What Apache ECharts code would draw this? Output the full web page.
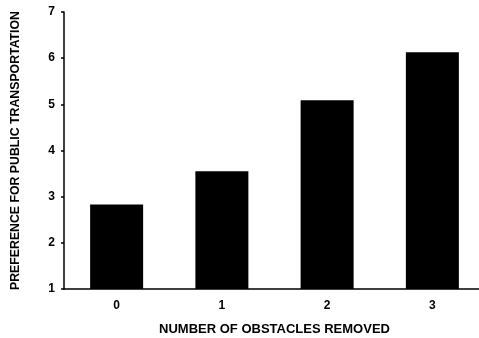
<!DOCTYPE html>
<html>
    <head>
        <meta charset="utf-8">
        <title>Obstacles removed</title>
        <script src="https://cdn.jsdelivr.net/npm/echarts@6/dist/echarts.min.js"></script>
        <style type="text/css">
            *{margin: 0}
        </style>
    </head>
    <body>
        <div id="main" style="width: 479px;height:338px;"></div>
        <script type="text/javascript">
        // data
        var categories = ['0', '1', '2', '3'];
        var preference = [2.83, 3.55, 5.09, 6.13];
        var yTicks = [1, 2, 3, 4, 5, 6, 7];

        var font = '"Liberation Sans", Arial, sans-serif';
        var myChart = echarts.init(document.getElementById('main'));
        myChart.setOption({
            animation: false,
            backgroundColor: '#fff',
            grid: {left: 64, top: 12, width: 421, height: 277, outerBoundsMode: 'none'},
            xAxis: {
                type: 'category',
                data: categories,
                name: 'NUMBER OF OBSTACLES REMOVED',
                nameLocation: 'middle',
                nameGap: 34,
                nameTextStyle: {color: '#000', fontFamily: font, fontWeight: 'bold', fontSize: 13},
                axisLine: {lineStyle: {color: '#000', width: 1.5}},
                axisTick: {show: false},
                axisLabel: {color: '#000', fontFamily: font, fontWeight: 'bold', fontSize: 12, margin: 11}
            },
            yAxis: {
                type: 'value',
                min: yTicks[0],
                max: yTicks[yTicks.length - 1],
                interval: 1,
                name: 'PREFERENCE FOR PUBLIC TRANSPORTATION',
                nameLocation: 'middle',
                nameRotate: 90,
                nameGap: 42,
                nameTextStyle: {color: '#000', fontFamily: font, fontWeight: 'bold', fontSize: 12.3},
                axisLine: {show: true, lineStyle: {color: '#000', width: 1.5}},
                axisTick: {show: true, length: 3, lineStyle: {color: '#000', width: 1.5}},
                axisLabel: {color: '#000', fontFamily: font, fontWeight: 'bold', fontSize: 12, margin: 9},
                splitLine: {show: false}
            },
            series: [{
                type: 'bar',
                data: preference,
                barWidth: 53,
                itemStyle: {color: '#000'}
            }]
        });
        </script>
    </body>
</html>
